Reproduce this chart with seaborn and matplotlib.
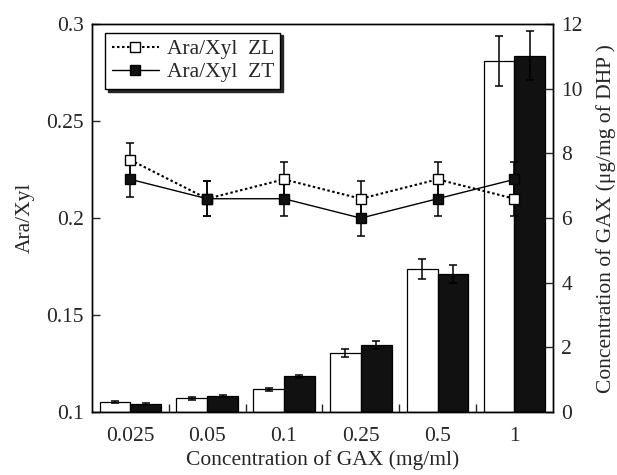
import numpy as np
import pandas as pd
import matplotlib
matplotlib.use("Agg")
import matplotlib.pyplot as plt
import seaborn as sns

concs = ["0.025", "0.05", "0.1", "0.25", "0.5", "1"]
series = ["ZL", "ZT"]

# Bars: concentration of GAX (ug/mg of DHP), right axis
gax_zl = [0.30, 0.42, 0.70, 1.82, 4.43, 10.86]
gax_zl_err = [0.03, 0.04, 0.05, 0.12, 0.32, 0.77]
gax_zt = [0.25, 0.50, 1.11, 2.07, 4.27, 11.02]
gax_zt_err = [0.03, 0.03, 0.05, 0.12, 0.29, 0.76]

# Lines: Ara/Xyl, left axis
ara_zl = [0.23, 0.21, 0.22, 0.21, 0.22, 0.21]
ara_zl_err = [0.009, 0.009, 0.009, 0.009, 0.009, 0.009]
ara_zt = [0.22, 0.21, 0.21, 0.20, 0.21, 0.22]
ara_zt_err = [0.009, 0.009, 0.009, 0.009, 0.009, 0.009]

sns.set_theme(style="ticks")
plt.rcParams["font.family"] = ["Liberation Serif", "DejaVu Serif"]
FS = 15.5

fig = plt.figure(figsize=(6.17, 4.75), dpi=100)
ax = fig.add_axes([0.149, 0.1326, 0.747, 0.8164])
ax2 = ax.twinx()

bars = pd.DataFrame({
    "conc": concs * 2,
    "series": ["ZL"] * 6 + ["ZT"] * 6,
    "gax": gax_zl + gax_zt,
})
sns.barplot(data=bars, x="conc", y="gax", hue="series", order=concs,
            hue_order=series, palette=["white", "#111111"], edgecolor="black",
            linewidth=0.9, width=0.8, errorbar=None, legend=False, ax=ax2)
for cont, vals, errs in zip(ax2.containers, [gax_zl, gax_zt], [gax_zl_err, gax_zt_err]):
    xs = [b.get_x() + b.get_width() / 2 for b in cont]
    ax2.errorbar(xs, vals, yerr=errs, fmt="none", ecolor="black",
                 elinewidth=1.1, capsize=3, capthick=1.1, zorder=3)

lines = {}
for name, vals, errs, ls, fc in [("ZL", ara_zl, ara_zl_err, (0, (1.2, 1.2)), "white"),
                                 ("ZT", ara_zt, ara_zt_err, "-", "#111111")]:
    df = pd.DataFrame({"conc": concs, "ara": vals})
    n_before = len(ax.lines)
    sns.pointplot(data=df, x="conc", y="ara", order=concs, color="black",
                  markers="s", linestyles=ls, errorbar=None, ax=ax,
                  markersize=6.5, markerfacecolor=fc, markeredgecolor="black",
                  markeredgewidth=1.0, linewidth=1.5 if name == "ZL" else 1.0)
    ln = ax.lines[n_before]
    ln.set_zorder(5)
    ln.set_label(f"Ara/Xyl  {name}")
    lines[name] = ln
    ax.errorbar(ln.get_xdata(), vals, yerr=errs, fmt="none", ecolor="black",
                elinewidth=1.1, capsize=3, capthick=1.1, zorder=4)

ax.set_zorder(ax2.get_zorder() + 1)
ax.patch.set_visible(False)

ax.set_xlim(-0.5, 5.5)
ax.set_ylim(0.1, 0.3)
ax2.set_ylim(0, 12)
ax.set_yticks([0.1, 0.15, 0.2, 0.25, 0.3])
ax.set_yticklabels(["0.1", "0.15", "0.2", "0.25", "0.3"])
ax2.set_yticks(range(0, 13, 2))
ax.set_xticks(range(len(concs)))
ax.set_xticklabels(concs)
ax.set_xticks(np.arange(0.5, len(concs) - 1, 1.0), minor=True)

ax.tick_params(axis="x", which="major", length=0, labelsize=FS, pad=11)
ax.tick_params(axis="x", which="minor", direction="in", length=6, width=1)
ax.tick_params(axis="y", direction="in", length=6, width=1, labelsize=FS, pad=6)
ax2.tick_params(axis="y", direction="in", length=6, width=1, labelsize=FS, pad=6)
ax2.tick_params(axis="x", length=0)
ax2.set_xlabel("")

ax.set_xlabel("Concentration of GAX (mg/ml)", fontsize=FS, labelpad=3)
ax.set_ylabel("Ara/Xyl", fontsize=FS, labelpad=8)
ax2.set_ylabel("Concentration of GAX (\u03bcg/mg of DHP )", fontsize=FS, labelpad=10)

for a in (ax, ax2):
    for s in a.spines.values():
        s.set_visible(True)
        s.set_color("black")
        s.set_linewidth(1.0)

leg = ax.legend(handles=[lines["ZL"], lines["ZT"]], loc="upper left",
                bbox_to_anchor=(0.015, 0.995), fontsize=FS, frameon=True,
                fancybox=False, shadow={"color": "0.15", "alpha": 1.0},
                edgecolor="black", framealpha=1, handlelength=2.2,
                handletextpad=0.35, labelspacing=0.15, borderpad=0.3,
                borderaxespad=0.3)
leg.get_frame().set_linewidth(1.0)

fig.savefig("out.png", dpi=100)
